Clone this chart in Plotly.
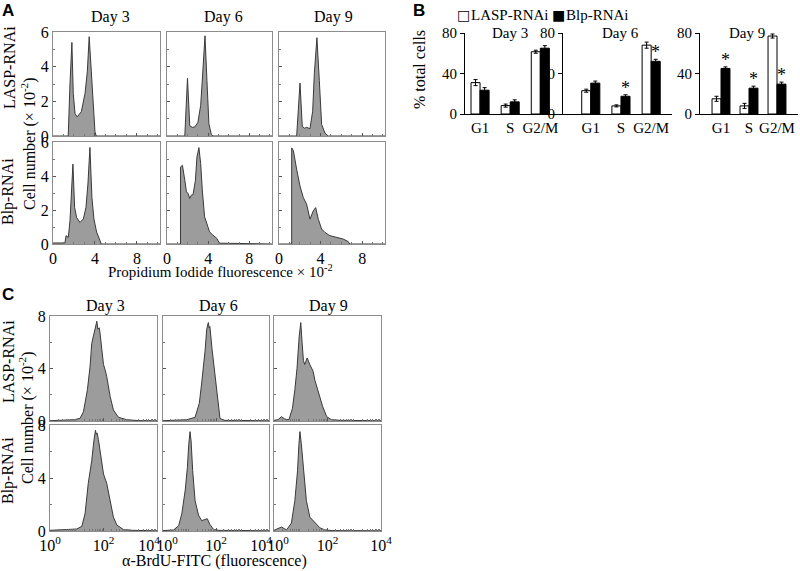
import numpy as np
import plotly.graph_objects as go

W, H = 800, 571

# ---------------- Panel A data (Propidium iodide, x in units of 10^2) ----------------
a_lasp_d3_x = [0, 1.45, 1.62, 1.8, 1.93, 2.1, 2.3, 2.7, 3.05, 3.27, 3.45, 3.69, 3.84, 4.0, 4.12, 10.2]
a_lasp_d3_y = [0, 0, 3.0, 5.4, 2.45, 1.3, 1.1, 1.4, 2.45, 3.7, 5.73, 3.4, 1.5, 0.25, 0, 0]
a_lasp_d6_x = [0, 1.73, 1.99, 2.21, 2.45, 2.69, 3.0, 3.27, 3.43, 3.69, 3.88, 4.07, 4.3, 4.45, 10.2]
a_lasp_d6_y = [0, 0, 3.33, 0.59, 0.5, 0.52, 0.78, 1.76, 3.23, 5.78, 3.2, 0.7, 0.1, 0, 0]
a_lasp_d9_x = [0, 1.7, 2.02, 2.24, 2.45, 2.66, 2.98, 3.24, 3.4, 3.65, 3.88, 4.1, 4.42, 4.74, 10.2]
a_lasp_d9_y = [0, 0, 3.05, 0.55, 0.45, 0.5, 0.42, 1.43, 3.6, 5.67, 3.2, 0.67, 0.17, 0, 0]
a_blp_d3_x = [0, 1.14, 1.24, 1.46, 1.62, 1.78, 1.9, 2.06, 2.25, 2.57, 2.89, 3.14, 3.33, 3.52, 3.71, 3.9, 4.16, 4.48, 4.6, 10.2]
a_blp_d3_y = [0.06, 0.06, 0.49, 0.39, 1.37, 3.72, 4.7, 2.15, 1.56, 1.27, 1.47, 2.15, 3.53, 5.68, 2.74, 1.47, 0.7, 0.2, 0, 0]
a_blp_d6_x = [0, 1.31, 1.31, 1.5, 1.73, 1.89, 2.05, 2.21, 2.37, 2.53, 2.76, 2.91, 3.1, 3.27, 3.43, 3.65, 3.97, 4.13, 4.45, 4.84, 5.1, 10.2]
a_blp_d6_y = [0, 0, 4.53, 4.63, 3.75, 3.07, 2.97, 2.68, 2.88, 2.9, 3.75, 5.12, 5.67, 4.73, 3.17, 1.6, 1.02, 0.72, 0.53, 0.33, 0.05, 0]
a_blp_d9_x = [0, 1.22, 1.22, 1.38, 1.7, 2.02, 2.34, 2.66, 2.98, 3.3, 3.53, 3.78, 4.1, 4.42, 4.9, 5.55, 6.18, 6.66, 6.8, 10.2]
a_blp_d9_y = [0, 0, 5.65, 5.5, 4.39, 3.41, 2.73, 2.34, 1.46, 1.95, 2.14, 1.46, 0.88, 0.68, 0.49, 0.39, 0.29, 0.14, 0, 0]

# ---------------- Panel B data (% total cells) ----------------
phases = ["G1", "S", "G2/M"]
lasp_d3 = [31, 8.3, 61.5]
lasp_d3_err = [3, 1.5, 1.5]
blp_d3 = [23.5, 12, 65]
blp_d3_err = [2.5, 2, 2.5]
lasp_d6 = [23, 8, 68]
lasp_d6_err = [1.5, 1, 3]
blp_d6 = [30.5, 17.5, 52]
blp_d6_err = [2, 1.5, 2]
lasp_d9 = [15, 8, 77]
lasp_d9_err = [2.5, 2.5, 2]
blp_d9 = [45, 25.5, 29.5]
blp_d9_err = [1.5, 2, 2]
stars_d6 = [False, True, True]
stars_d9 = [True, True, True]

# ---------------- Panel C data (BrdU, x given as log10 of fluorescence) ----------------
c_lasp_d3_lx = [0, 0.5, 0.9, 1.12, 1.25, 1.4, 1.5, 1.56, 1.69, 1.75, 1.79, 1.84, 1.87, 2.0, 2.06, 2.12, 2.25, 2.37, 2.56, 2.87, 3.3, 4]
c_lasp_d3_y = [0.02, 0.05, 0.1, 0.2, 0.7, 2.4, 4.2, 5.9, 6.95, 7.6, 7.0, 7.1, 6.7, 4.3, 3.9, 3.4, 1.85, 0.84, 0.28, 0.1, 0.03, 0.02]
c_lasp_d6_lx = [0, 0.6, 0.9, 1.21, 1.37, 1.46, 1.5, 1.59, 1.65, 1.71, 1.74, 1.77, 1.85, 1.93, 2.0, 2.05, 2.1, 2.15, 2.3, 4]
c_lasp_d6_y = [0.02, 0.05, 0.1, 0.28, 1.35, 2.9, 3.6, 5.4, 7.0, 7.5, 7.1, 7.2, 5.5, 4.1, 2.8, 1.6, 0.7, 0.2, 0.05, 0.02]
c_lasp_d9_lx = [0, 0.15, 0.28, 0.4, 0.56, 0.69, 0.78, 0.86, 0.94, 1.0, 1.05, 1.1, 1.15, 1.24, 1.34, 1.46, 1.53, 1.61, 1.69, 1.82, 1.97, 2.15, 2.47, 4]
c_lasp_d9_y = [0.05, 0.1, 0.33, 0.15, 0.1, 0.97, 2.4, 4.0, 6.4, 7.5, 6.0, 4.6, 4.3, 4.8, 4.3, 3.8, 3.1, 2.5, 2.1, 1.1, 0.33, 0.1, 0.05, 0.02]
c_blp_d3_lx = [0, 0.62, 1.0, 1.19, 1.31, 1.43, 1.56, 1.64, 1.7, 1.73, 1.76, 1.81, 1.9, 2.0, 2.12, 2.25, 2.37, 2.5, 2.75, 3.1, 4]
c_blp_d3_y = [0.05, 0.08, 0.15, 0.35, 1.3, 3.6, 5.3, 6.8, 7.6, 7.3, 7.4, 6.9, 5.6, 4.3, 3.6, 2.3, 1.05, 0.45, 0.1, 0.05, 0.02]
c_blp_d6_lx = [0, 0.4, 0.59, 0.71, 0.84, 0.92, 0.97, 1.02, 1.06, 1.12, 1.21, 1.34, 1.46, 1.59, 1.67, 1.77, 1.9, 2.1, 4]
c_blp_d6_y = [0.03, 0.08, 0.4, 1.3, 3.1, 4.8, 6.5, 7.5, 6.8, 4.55, 2.3, 1.2, 0.78, 0.85, 0.93, 0.5, 0.13, 0.05, 0.02]
c_blp_d9_lx = [0, 0.15, 0.28, 0.47, 0.65, 0.78, 0.88, 0.93, 0.97, 1.02, 1.11, 1.21, 1.34, 1.53, 1.71, 1.9, 2.2, 4]
c_blp_d9_y = [0.05, 0.2, 0.3, 0.08, 0.6, 2.3, 4.55, 6.5, 7.5, 6.6, 4.55, 2.3, 1.05, 0.6, 0.25, 0.08, 0.03, 0.02]
c_tick_vals = [1, 100, 10000]

SERIF = "Liberation Serif"
SANS = "Liberation Sans"
FILL = "#9c9c9c"
EDGE = "#3a3a3a"
FRAME = "#8c8c8c"
NB = "&nbsp;"


def fx(px):
    return px / W


def fy(py):
    return 1 - py / H


fig = go.Figure()
layout = dict(
    template="none",
    width=W, height=H, autosize=False, margin=dict(l=0, r=0, t=0, b=0, pad=0),
    paper_bgcolor="white", plot_bgcolor="white", showlegend=False,
    font=dict(family=SERIF, size=15, color="black"),
    barmode="overlay",
)


def names(n):
    s = "" if n == 1 else str(n)
    return "xaxis" + s, "yaxis" + s, "x" + s, "y" + s


def add_axes(n, xd, yd, xkw, ykw):
    xa, ya, xr, yr = names(n)
    layout[xa] = dict(domain=[fx(xd[0]), fx(xd[1])], anchor=yr, automargin=False, **xkw)
    layout[ya] = dict(domain=[fy(yd[1]), fy(yd[0])], anchor=xr, automargin=False, **ykw)
    return xr, yr


frame = dict(showline=True, mirror=True, linecolor=FRAME, linewidth=1,
             showgrid=False, zeroline=False, ticks="inside", ticklen=3,
             tickcolor="#555")

# ---------------- Panel A ----------------
a_cols = [(53, 160), (167, 272), (279, 385)]
a_rows = [(32, 136), (142, 244)]
a_data = [
    [(a_lasp_d3_x, a_lasp_d3_y), (a_lasp_d6_x, a_lasp_d6_y), (a_lasp_d9_x, a_lasp_d9_y)],
    [(a_blp_d3_x, a_blp_d3_y), (a_blp_d6_x, a_blp_d6_y), (a_blp_d9_x, a_blp_d9_y)],
]
n = 1
for r, rows in enumerate(a_rows):
    for c, cols in enumerate(a_cols):
        xkw = dict(frame, range=[0, 10.2], tickmode="linear", tick0=0, dtick=4,
                   showticklabels=(r == 1),
                   minor=dict(ticks="inside", ticklen=2, dtick=1, tickcolor="#777"),
                   tickfont=dict(size=16))
        ykw = dict(frame, range=[0, 6], tickmode="linear", tick0=0, dtick=2,
                   showticklabels=(c == 0),
                   minor=dict(ticks="inside", ticklen=2, dtick=1, tickcolor="#777"),
                   tickfont=dict(size=16))
        xr, yr = add_axes(n, cols, rows, xkw, ykw)
        xs, ys = a_data[r][c]
        fig.add_trace(go.Scatter(x=xs, y=ys, mode="lines", fill="tozeroy",
                                 fillcolor=FILL, line=dict(color=EDGE, width=1),
                                 xaxis=xr, yaxis=yr, hoverinfo="skip"))
        n += 1

# ---------------- Panel B ----------------
b_x = [(465, 562), (563, 672), (700, 798)]
b_y = (33, 114)
b_ranges = [[-0.5, 2.72], [-0.92, 2.69], [-0.75, 2.75]]
b_width = [0.3, 0.3, 0.32]
b_sets = [
    (lasp_d3, lasp_d3_err, blp_d3, blp_d3_err, None),
    (lasp_d6, lasp_d6_err, blp_d6, blp_d6_err, stars_d6),
    (lasp_d9, lasp_d9_err, blp_d9, blp_d9_err, stars_d9),
]
star_annots = []
for i in range(3):
    xkw = dict(type="category", categoryorder="array", categoryarray=phases,
               range=b_ranges[i], showline=True, linecolor="black", linewidth=1,
               showgrid=False, zeroline=False, ticks="", tickfont=dict(size=15))
    ykw = dict(range=[0, 80], tickvals=[0, 40, 80], showline=True, linecolor="black",
               linewidth=1, showgrid=False, zeroline=False, ticks="outside",
               ticklen=4, tickcolor="black", tickfont=dict(size=15))
    xr, yr = add_axes(n, b_x[i], b_y, xkw, ykw)
    lv, le, bv, be, st = b_sets[i]
    w = b_width[i]
    fig.add_trace(go.Bar(x=phases, y=lv, width=w, offset=-w, name="LASP-RNAi",
                         marker=dict(color="white", line=dict(color="black", width=1)),
                         error_y=dict(type="data", array=le, color="black", thickness=1, width=2),
                         xaxis=xr, yaxis=yr))
    fig.add_trace(go.Bar(x=phases, y=bv, width=w, offset=0, name="Blp-RNAi",
                         marker=dict(color="black", line=dict(color="black", width=1)),
                         error_y=dict(type="data", array=be, color="black", thickness=1, width=2),
                         xaxis=xr, yaxis=yr))
    if st:
        for k, flag in enumerate(st):
            if flag:
                star_annots.append(dict(x=k + w / 2, y=bv[k] + be[k], xref=xr, yref=yr,
                                        text="*", showarrow=False, yanchor="bottom",
                                        yshift=-5, font=dict(family=SERIF, size=18, color="black")))
    n += 1

# ---------------- Panel C ----------------
c_cols = [(50, 157), (163, 269), (274, 381)]
c_rows = [(316, 421), (425, 531)]
c_data = [
    [(c_lasp_d3_lx, c_lasp_d3_y), (c_lasp_d6_lx, c_lasp_d6_y), (c_lasp_d9_lx, c_lasp_d9_y)],
    [(c_blp_d3_lx, c_blp_d3_y), (c_blp_d6_lx, c_blp_d6_y), (c_blp_d9_lx, c_blp_d9_y)],
]
# tick texts: labels at the shared column edges are nudged apart as in the original
c_ticktext = [
    ["10<sup>0</sup>", "10<sup>2</sup>", "10<sup>4</sup>" + NB * 4],
    [NB * 2 + "10<sup>0</sup>", "10<sup>2</sup>", "10<sup>4</sup>" + NB * 4],
    [NB * 2 + "10<sup>0</sup>", "10<sup>2</sup>", "10<sup>4</sup>"],
]
log_minor = [m * 10 ** d for d in range(4) for m in range(2, 10)]
for r, rows in enumerate(c_rows):
    for c, cols in enumerate(c_cols):
        xkw = dict(frame, type="log", range=[0, 4], tickmode="array",
                   tickvals=c_tick_vals, ticktext=c_ticktext[c],
                   showticklabels=(r == 1),
                   minor=dict(ticks="inside", ticklen=2, tickmode="array",
                              tickvals=log_minor, tickcolor="#777"),
                   tickfont=dict(size=16))
        ykw = dict(frame, range=[0, 8], tickmode="linear", tick0=0, dtick=4,
                   showticklabels=(c == 0),
                   minor=dict(ticks="inside", ticklen=2, dtick=2, tickcolor="#777"),
                   tickfont=dict(size=16))
        xr, yr = add_axes(n, cols, rows, xkw, ykw)
        lx, ys = c_data[r][c]
        fig.add_trace(go.Scatter(x=np.power(10.0, lx), y=ys, mode="lines", fill="tozeroy",
                                 fillcolor=FILL, line=dict(color=EDGE, width=1),
                                 xaxis=xr, yaxis=yr, hoverinfo="skip"))
        n += 1


def note(text, x, y, size=16, angle=0, family=SERIF, bold=False, xanchor="center"):
    t = f"<b>{text}</b>" if bold else text
    return dict(text=t, x=fx(x), y=fy(y), xref="paper", yref="paper", showarrow=False,
                textangle=angle, xanchor=xanchor, yanchor="middle",
                font=dict(family=family, size=size, color="black"))


annots = [
    note("A", 8, 10, 17, family=SANS, bold=True),
    note("B", 419, 10, 17, family=SANS, bold=True),
    note("C", 8, 294, 17, family=SANS, bold=True),
    note("Day 3", 110, 17), note("Day 6", 223, 17), note("Day 9", 333, 17),
    note("Day 3", 105, 306), note("Day 6", 218, 306), note("Day 9", 328, 306),
    note("LASP-RNAi", 9, 68, 16, angle=-90),
    note("Cell number (× 10<sup>-2</sup>)", 28, 144, 16, angle=-90),
    note("Blp-RNAi", 8, 192, 16, angle=-90),
    note("LASP-RNAi", 8, 362, 16, angle=-90),
    note("Cell number (× 10<sup>-2</sup>)", 26, 418, 16, angle=-90),
    note("Blp-RNAi", 8, 471, 16, angle=-90),
    note("Propidium Iodide fluorescence × 10<sup>-2</sup>", 220, 271, 15),
    note("α-BrdU-FITC (fluorescence)", 214, 561, 16),
    note("% total cells", 420, 70, 16, angle=-90),
    note("Day 3", 510, 33, 15), note("Day 6", 620, 33, 15), note("Day 9", 747, 33, 15),
    # legend for panel B
    note("□", 463, 15, 14, family="DejaVu Sans"),
    note("LASP-RNAi", 469, 15, 15, xanchor="left"),
    note("■", 558, 15, 14, family="DejaVu Sans"),
    note("Blp-RNAi", 564, 15, 15, xanchor="left"),
]
layout["annotations"] = annots + star_annots
fig.update_layout(**layout)

fig.write_html("out.html", config={"displayModeBar": False},
               post_script="document.body.style.margin='0';")
